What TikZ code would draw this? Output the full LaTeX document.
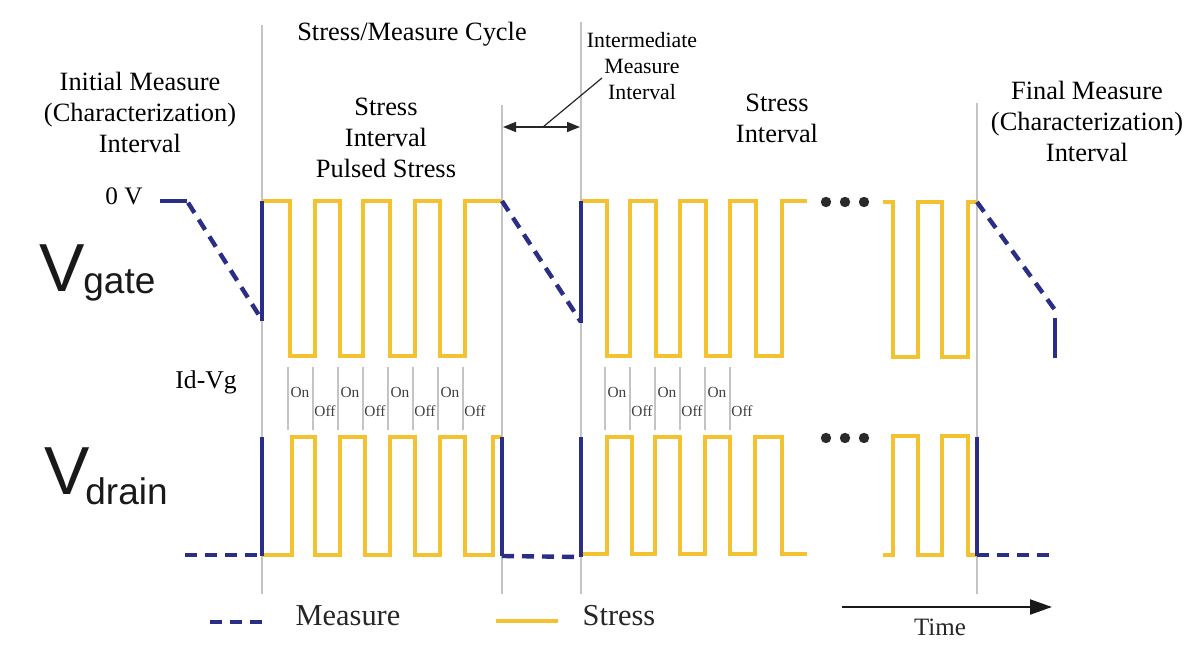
\documentclass[tikz,border=0pt]{standalone}
\usepackage{fontspec}
\setmainfont{Liberation Serif}
\newfontfamily\sansf{Liberation Sans}
\usetikzlibrary{arrows.meta}
\definecolor{mblue}{HTML}{2B2E86}
\definecolor{syellow}{HTML}{F2C230}
\definecolor{gline}{HTML}{C4C4C4}
\definecolor{dotc}{HTML}{2A2A2A}
\begin{document}
\begin{tikzpicture}[x=0.5pt,y=-0.5pt,
  stress/.style={draw=syellow,line width=2pt,line join=miter},
  meas/.style={draw=mblue,line width=2.2pt,dash pattern=on 6pt off 4pt},
  measolid/.style={draw=mblue,line width=2pt},
  gridline/.style={draw=gline,line width=0.8pt},
  tickline/.style={draw=gline,line width=0.6pt},
  lbl/.style={font=\fontsize{13.2}{15.5}\selectfont,align=center,inner sep=0pt,anchor=base},
  smalllbl/.style={font=\fontsize{10.9}{13}\selectfont,align=center,inner sep=0pt,anchor=base},
  onoff/.style={font=\fontsize{7.7}{8}\selectfont,inner sep=0pt,anchor=base,text=black!75},
  bigv/.style={font=\sansf\fontsize{34}{34}\selectfont,inner sep=0pt,anchor=base west,text=black!90},
  subv/.style={font=\sansf\fontsize{18.5}{18.5}\selectfont,inner sep=0pt,anchor=base west,text=black!90},
  leg/.style={font=\fontsize{15.2}{16}\selectfont,inner sep=0pt,anchor=base,text=black!85},
  dot/.style={fill=dotc}
]
\useasboundingbox (0,0) rectangle (1190,656);

% vertical grey interval lines
\coordinate (g1t) at (262,25);  \coordinate (g1b) at (262,594);
\coordinate (g2t) at (502,105); \coordinate (g2b) at (502,594);
\coordinate (g3t) at (581,22);  \coordinate (g3b) at (581,594);
\coordinate (g4t) at (977,103); \coordinate (g4b) at (977,594);
\draw[gridline] (g1t) -- (g1b);
\draw[gridline] (g2t) -- (g2b);
\draw[gridline] (g3t) -- (g3b);
\draw[gridline] (g4t) -- (g4b);

% On/Off tick lines
\foreach \x [count=\i] in {288,313,338,363,388,413,438,463,605,630,655,680,705,730}{
  \coordinate (tk\i t) at (\x,367);
  \coordinate (tk\i b) at (\x,430);
  \draw[tickline] (tk\i t) -- (tk\i b);
}
\foreach \x [count=\i] in {300,350,400,450,617,667,717}{
  \node[onoff] (on\i) at (\x,398) {On};
  \node[onoff] (off\i) at (\x+25,417) {Off};
}

% ---------- V gate ----------
\draw[stress] (262,201) -- (290,201) -- (290,356) -- (315,356) -- (315,201) -- (340,201)
  -- (340,356) -- (363,356) -- (363,201) -- (390,201) -- (390,356) -- (415,356)
  -- (415,201) -- (440,201) -- (440,356) -- (465,356) -- (465,201) -- (502,201);
\draw[stress] (581,201) -- (607,201) -- (607,356) -- (630,356) -- (630,201) -- (656,201)
  -- (656,356) -- (680,356) -- (680,201) -- (706,201) -- (706,356) -- (730,356)
  -- (730,201) -- (756,201) -- (756,356) -- (782,356) -- (782,201) -- (807,201);
\draw[stress] (883,202) -- (893,202) -- (893,357) -- (918,357) -- (918,202) -- (942,202)
  -- (942,357) -- (968,357) -- (968,202) -- (977,202);

\draw[measolid] (160,201) -- (187,201);
\draw[meas,dash phase=-1pt] (187,201) -- (262,320);
\draw[measolid] (262,321) -- (262,201);
\draw[meas] (502,201) -- (581,322);
\draw[measolid] (581,323) -- (581,201);
\draw[meas] (977,202) -- (1055,310);
\draw[measolid] (1055,318) -- (1055,358);

% ---------- V drain ----------
\draw[stress] (262,555) -- (292,555) -- (292,437) -- (315,437) -- (315,555) -- (340,555)
  -- (340,437) -- (365,437) -- (365,555) -- (390,555) -- (390,437) -- (415,437)
  -- (415,555) -- (440,555) -- (440,437) -- (465,437) -- (465,555) -- (493,555)
  -- (493,437) -- (502,437);
\draw[stress] (582,554) -- (607,554) -- (607,437) -- (632,437) -- (632,554) -- (655,554)
  -- (655,437) -- (680,437) -- (680,554) -- (705,554) -- (705,437) -- (730,437)
  -- (730,554) -- (755,554) -- (755,437) -- (782,437) -- (782,554) -- (807,554);
\draw[stress] (883,555) -- (893,555) -- (893,436) -- (918,436) -- (918,555) -- (942,555)
  -- (942,436) -- (968,436) -- (968,555) -- (977,555);

\draw[meas] (185,555) -- (262,555);
\draw[measolid] (262,556) -- (262,437);
\draw[measolid] (502,437) -- (502,556);
\draw[meas] (502,556) -- (581,557);
\draw[measolid] (581,557) -- (581,437);
\draw[measolid] (977,437) -- (977,556);
\draw[meas] (977,555) -- (1055,555);

% ellipsis dots
\foreach \x [count=\i] in {826,845,864}{
  \fill[dot] (\x,202) circle (2.6pt);
  \fill[dot] (\x,438) circle (2.6pt);
}

% ---------- texts (anchor base = last line) ----------
\node[lbl] (cycle) at (412,41) {Stress/Measure Cycle};
\node[lbl] (initial) at (140,153) {Initial Measure\\(Characterization)\\Interval};
\node[lbl] (stress1) at (386,178) {Stress\\Interval\\Pulsed Stress};
\node[smalllbl] (inter) at (642,100) {Intermediate\\Measure\\Interval};
\node[lbl] (stress2) at (777,143) {Stress\\Interval};
\node[lbl] (final) at (1087,162) {Final Measure\\(Characterization)\\Interval};
\node[lbl,font=\fontsize{12.6}{14}\selectfont] (zerov) at (124,205) {0~V};
\node[lbl,font=\fontsize{12.8}{14}\selectfont] (idvg) at (206,389) {Id-Vg};

\node[bigv] (vg) at (39,292) {V};
\node[subv] (vgs) at (83,294) {gate};
\node[bigv] (vd) at (44,495) {V};
\node[subv] (vds) at (85,505) {drain};

% intermediate interval arrow + leader
\coordinate (ia) at (503,127);
\coordinate (ib) at (580,127);
\coordinate (im) at (543,127);
\coordinate (il) at (602,78);
\draw[{Triangle[length=6.5pt,width=5pt]}-{Triangle[length=6.5pt,width=5pt]},line width=0.8pt,black!85] (ia) -- (ib);
\draw[line width=0.6pt,black!85] (im) -- (il);

% ---------- legend ----------
\coordinate (lm0) at (210,622); \coordinate (lm1) at (262,622);
\draw[meas] (lm0) -- (lm1);
\node[leg] (lmeas) at (348,626) {Measure};
\coordinate (ls0) at (496,621); \coordinate (ls1) at (558,621);
\draw[stress,line width=2.4pt] (ls0) -- (ls1);
\node[leg] (lstress) at (619,626) {Stress};
\coordinate (t0) at (842,607); \coordinate (t1) at (1052,607);
\draw[-{Triangle[length=11pt,width=7.5pt]},line width=1.1pt,black!90] (t0) -- (t1);
\node[leg,font=\fontsize{12.5}{13}\selectfont] (ltime) at (940,636) {Time};
\end{tikzpicture}
\end{document}
